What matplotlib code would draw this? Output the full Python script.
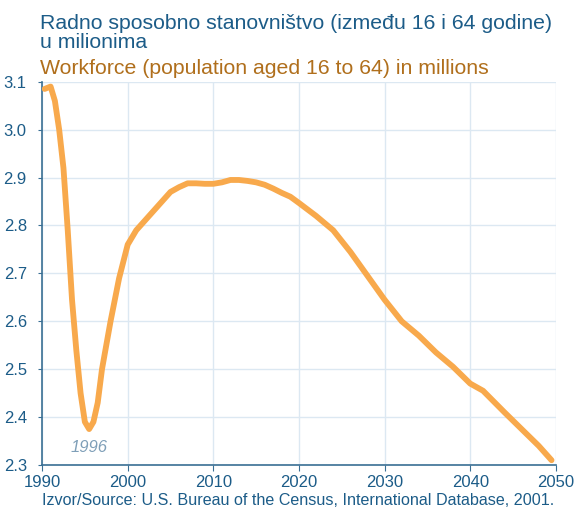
import matplotlib
matplotlib.use("Agg")
import matplotlib.pyplot as plt

plt.rcParams["font.family"] = ["Liberation Sans", "DejaVu Sans"]

# workforce (16-64), millions
years = [1990.3, 1991, 1991.5, 1992, 1992.5, 1993, 1993.5, 1994, 1994.5, 1995,
         1995.5, 1996, 1996.5, 1997, 1998, 1999, 2000, 2001, 2002, 2003,
         2004, 2005, 2006, 2007, 2008, 2009, 2010, 2011, 2012, 2013,
         2014, 2015, 2016, 2017, 2018, 2019, 2020, 2022, 2024, 2026,
         2028, 2030, 2032, 2034, 2036, 2038, 2040, 2041.5, 2044, 2046,
         2048, 2049.5]
workforce = [3.085, 3.09, 3.06, 3.00, 2.92, 2.79, 2.645, 2.54, 2.45, 2.39,
             2.375, 2.39, 2.43, 2.50, 2.60, 2.69, 2.76, 2.79, 2.81, 2.83,
             2.85, 2.87, 2.88, 2.888, 2.888, 2.887, 2.887, 2.89, 2.895, 2.895,
             2.893, 2.89, 2.885, 2.877, 2.868, 2.86, 2.847, 2.82, 2.79, 2.745,
             2.695, 2.645, 2.60, 2.57, 2.535, 2.505, 2.47, 2.455, 2.41, 2.375,
             2.34, 2.31]
xticks = [1990, 2000, 2010, 2020, 2030, 2040, 2050]
yticks = [2.3, 2.4, 2.5, 2.6, 2.7, 2.8, 2.9, 3.0, 3.1]

BLUE = "#1c5c88"
BROWN = "#b06f1c"
ORANGE = "#f8a94c"
GRID = "#dce8f2"

fig = plt.figure(figsize=(5.76, 5.11), dpi=100)
ax = fig.add_axes([0.073, 0.09, 0.892, 0.75])

ax.plot(years, workforce, color=ORANGE, lw=4.2, solid_joinstyle="round",
        solid_capstyle="round", zorder=3)

ax.set_xlim(1990, 2050)
ax.set_ylim(2.3, 3.1)
ax.set_xticks(xticks)
ax.set_yticks(yticks)
ax.set_yticklabels([f"{v:.1f}" for v in yticks])
ax.grid(True, color=GRID, lw=1.0)
ax.set_axisbelow(True)
for s in ["top", "right"]:
    ax.spines[s].set_visible(False)
for s in ["left", "bottom"]:
    ax.spines[s].set_color("#3a6f94")
    ax.spines[s].set_linewidth(1.2)
ax.tick_params(axis="x", colors=BLUE, labelsize=12, length=4, direction="out", color="#3a6f94", pad=3)
ax.tick_params(axis="y", colors=BLUE, labelsize=12, length=3, direction="out", color="#3a6f94", pad=8)

ax.text(1995.5, 2.337, "1996", color="#7f9fb8", fontsize=12, style="italic",
        ha="center", va="center")

fig.text(0.069, 0.973, "Radno sposobno stanovništvo (između 16 i 64 godine)\nu milionima",
         color=BLUE, fontsize=15.3, va="top", ha="left", linespacing=1.0)
fig.text(0.069, 0.885, "Workforce (population aged 16 to 64) in millions",
         color=BROWN, fontsize=15.3, va="top", ha="left")
fig.text(0.073, 0.006, "Izvor/Source: U.S. Bureau of the Census, International Database, 2001.",
         color=BLUE, fontsize=11.6, va="bottom", ha="left")

fig.savefig("out.png", dpi=100)
